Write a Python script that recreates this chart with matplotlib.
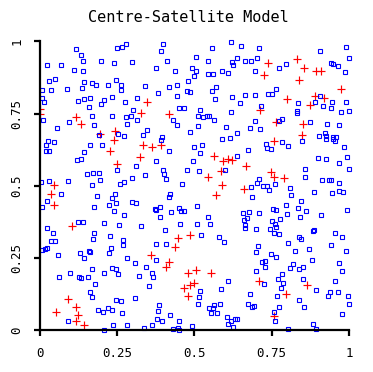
import matplotlib
matplotlib.use("Agg")
from matplotlib import pyplot as plt

# blue squares (roughly top-left to bottom-right)
square_x = [
    0.117, 0.133, 0.139, 0.023, 0.068, 0.197, 0.239, 0.110, 0.139, 0.029, 0.049, 0.142,
    0.168, 0.181, 0.220, 0.006, 0.036, 0.087, 0.136, 0.006, 0.013, 0.123, 0.142, 0.162,
    0.207, 0.233, 0.197, 0.159, 0.010, 0.055, 0.094, 0.168, 0.233, 0.175, 0.191, 0.251,
    0.249, 0.265, 0.278, 0.398, 0.392, 0.298, 0.411, 0.375, 0.437, 0.492, 0.246, 0.262,
    0.262, 0.340, 0.382, 0.417, 0.443, 0.479, 0.476, 0.485, 0.443, 0.314, 0.275, 0.301,
    0.278, 0.294, 0.314, 0.282, 0.450, 0.466, 0.430, 0.443, 0.485, 0.346, 0.333, 0.395,
    0.272,
    0.618, 0.650, 0.709, 0.557, 0.505, 0.544, 0.638, 0.621, 0.625, 0.663, 0.683, 0.702,
    0.505, 0.498, 0.544, 0.560, 0.589, 0.608, 0.696, 0.570, 0.557, 0.566, 0.621, 0.663,
    0.696, 0.738, 0.751, 0.647, 0.715, 0.518, 0.511, 0.527, 0.540, 0.547, 0.563, 0.618,
    0.696, 0.511, 0.602, 0.680, 0.712, 0.638,
    0.990, 0.999, 0.906, 0.942, 0.948, 0.964, 0.987, 0.796, 0.773, 0.764, 0.906, 0.890,
    0.835, 0.916, 0.942, 0.945, 0.990, 0.974, 0.999, 0.832, 0.832, 0.773, 0.783, 0.874,
    0.929, 0.968, 0.922, 0.926, 0.903, 0.948, 0.958,
    0.026, 0.045, 0.019, 0.019, 0.029, 0.162, 0.201, 0.142, 0.120, 0.133, 0.152, 0.172,
    0.191, 0.194, 0.168, 0.003, 0.029, 0.091, 0.068, 0.184, 0.243, 0.233, 0.223, 0.175,
    0.239, 0.023, 0.006, 0.123, 0.139, 0.207, 0.023,
    0.392, 0.417, 0.375, 0.311, 0.249, 0.398, 0.401, 0.408, 0.476, 0.340, 0.298, 0.272,
    0.259, 0.460, 0.421, 0.417, 0.246, 0.298, 0.311, 0.372, 0.375, 0.388, 0.450, 0.456,
    0.466, 0.424, 0.272, 0.388, 0.256, 0.327, 0.453, 0.404,
    0.589, 0.615, 0.498, 0.524, 0.518, 0.495, 0.673, 0.638, 0.731, 0.735, 0.748, 0.515,
    0.599, 0.709, 0.702, 0.722, 0.735, 0.741, 0.683, 0.686, 0.508, 0.544, 0.508, 0.550,
    0.657, 0.676, 0.709, 0.670, 0.660, 0.663, 0.663, 0.699, 0.751, 0.744,
    0.783, 0.803, 0.848, 0.926, 0.948, 0.955, 0.984, 0.900, 0.926, 0.994, 0.968, 0.999,
    0.858, 0.858, 0.913, 0.935, 0.942, 0.968, 0.761, 0.809, 0.812, 0.887, 0.945, 0.968,
    0.981, 0.845, 0.796, 0.835, 0.861, 0.754, 0.764, 0.799, 0.841, 0.909, 0.994, 0.777,
    0.761, 0.764, 0.887, 0.883,
    0.042, 0.175, 0.227, 0.172, 0.036, 0.049, 0.006, 0.016, 0.023, 0.230, 0.159, 0.162,
    0.223, 0.129, 0.058, 0.142, 0.168, 0.233, 0.207, 0.097, 0.061, 0.126, 0.133, 0.155,
    0.178, 0.162, 0.168, 0.188, 0.204, 0.220, 0.233, 0.091, 0.236, 0.207,
    0.269, 0.269, 0.375, 0.408, 0.282, 0.307, 0.375, 0.343, 0.246, 0.252, 0.320, 0.362,
    0.366, 0.353, 0.246, 0.262, 0.307, 0.265, 0.385, 0.382, 0.421, 0.379, 0.395, 0.450,
    0.282, 0.337, 0.362, 0.430, 0.447, 0.450, 0.492,
    0.521, 0.579, 0.595, 0.706, 0.699, 0.748, 0.718, 0.728, 0.728, 0.699, 0.608, 0.586,
    0.518, 0.515, 0.511, 0.583, 0.563, 0.547, 0.560, 0.553, 0.573, 0.680, 0.673, 0.686,
    0.693, 0.725, 0.605, 0.618, 0.608, 0.625, 0.631, 0.638,
    0.757, 0.773, 0.838, 0.845, 0.955, 0.977, 0.942, 0.803, 0.871, 0.825, 0.990, 0.764,
    0.880, 0.819, 0.809, 0.838, 0.851, 0.968, 0.977, 0.783, 0.770, 0.786, 0.851, 0.955,
    0.780, 0.893, 0.939, 0.932, 0.964, 0.997, 0.767, 0.838, 0.999, 0.773, 0.854, 0.757,
    0.977, 0.761, 0.883, 0.803, 0.893,
]
square_y = [
    0.975, 0.954, 0.934, 0.920, 0.920, 0.934, 0.927, 0.902, 0.899, 0.864, 0.871, 0.861,
    0.857, 0.851, 0.851, 0.833, 0.833, 0.837, 0.840, 0.806, 0.792, 0.795, 0.802, 0.806,
    0.799, 0.809, 0.785, 0.774, 0.729, 0.702, 0.722, 0.743, 0.743, 0.712, 0.678, 0.680,
    0.979, 0.982, 0.992, 0.992, 0.968, 0.930, 0.934, 0.909, 0.899, 0.909, 0.868, 0.851,
    0.833, 0.847, 0.823, 0.844, 0.851, 0.864, 0.830, 0.826, 0.812, 0.806, 0.792, 0.764,
    0.740, 0.743, 0.729, 0.716, 0.770, 0.771, 0.729, 0.712, 0.688, 0.695, 0.678, 0.671,
    0.674,
    0.999, 0.985, 0.979, 0.979, 0.947, 0.934, 0.944, 0.930, 0.920, 0.934, 0.934, 0.944,
    0.899, 0.882, 0.889, 0.889, 0.899, 0.892, 0.899, 0.844, 0.830, 0.802, 0.809, 0.816,
    0.816, 0.819, 0.819, 0.788, 0.778, 0.764, 0.743, 0.740, 0.743, 0.743, 0.729, 0.757,
    0.726, 0.709, 0.705, 0.702, 0.698, 0.684,
    0.982, 0.944, 0.968, 0.927, 0.923, 0.916, 0.896, 0.923, 0.909, 0.837, 0.812, 0.792,
    0.788, 0.778, 0.771, 0.792, 0.792, 0.757, 0.761, 0.761, 0.754, 0.726, 0.733, 0.722,
    0.716, 0.712, 0.684, 0.674, 0.674, 0.671, 0.671,
    0.657, 0.653, 0.643, 0.622, 0.622, 0.643, 0.643, 0.619, 0.591, 0.594, 0.543, 0.546,
    0.546, 0.522, 0.504, 0.515, 0.518, 0.518, 0.473, 0.466, 0.473, 0.460, 0.435, 0.428,
    0.415, 0.449, 0.428, 0.376, 0.376, 0.373, 0.356,
    0.660, 0.622, 0.588, 0.570, 0.556, 0.556, 0.543, 0.525, 0.556, 0.539, 0.529, 0.515,
    0.508, 0.508, 0.473, 0.463, 0.442, 0.446, 0.442, 0.421, 0.418, 0.428, 0.425, 0.415,
    0.415, 0.411, 0.401, 0.394, 0.366, 0.363, 0.370, 0.349,
    0.664, 0.667, 0.636, 0.643, 0.615, 0.588, 0.626, 0.605, 0.646, 0.633, 0.629, 0.553,
    0.556, 0.525, 0.511, 0.501, 0.501, 0.487, 0.498, 0.463, 0.432, 0.394, 0.370, 0.370,
    0.408, 0.411, 0.408, 0.390, 0.383, 0.366, 0.356, 0.352, 0.380, 0.352,
    0.653, 0.639, 0.657, 0.664, 0.664, 0.657, 0.636, 0.598, 0.594, 0.601, 0.581, 0.560,
    0.560, 0.532, 0.522, 0.522, 0.522, 0.511, 0.508, 0.494, 0.470, 0.480, 0.477, 0.484,
    0.480, 0.449, 0.435, 0.425, 0.415, 0.421, 0.418, 0.404, 0.394, 0.401, 0.418, 0.387,
    0.370, 0.359, 0.349, 0.345,
    0.338, 0.338, 0.328, 0.318, 0.311, 0.311, 0.280, 0.283, 0.287, 0.287, 0.276, 0.273,
    0.269, 0.269, 0.262, 0.252, 0.214, 0.217, 0.200, 0.200, 0.186, 0.186, 0.183, 0.186,
    0.162, 0.134, 0.117, 0.072, 0.065, 0.079, 0.072, 0.034, 0.020, 0.000,
    0.314, 0.297, 0.300, 0.300, 0.252, 0.235, 0.245, 0.221, 0.214, 0.197, 0.190, 0.200,
    0.186, 0.155, 0.107, 0.103, 0.113, 0.062, 0.089, 0.069, 0.055, 0.041, 0.034, 0.034,
    0.020, 0.010, 0.020, 0.006, 0.010, 0.000, 0.017,
    0.331, 0.325, 0.307, 0.293, 0.273, 0.266, 0.238, 0.242, 0.221, 0.207, 0.172, 0.145,
    0.138, 0.117, 0.093, 0.093, 0.089, 0.079, 0.079, 0.062, 0.062, 0.127, 0.093, 0.082,
    0.086, 0.162, 0.048, 0.034, 0.024, 0.013, 0.041, 0.041,
    0.338, 0.335, 0.325, 0.318, 0.338, 0.325, 0.297, 0.304, 0.283, 0.276, 0.276, 0.255,
    0.245, 0.231, 0.217, 0.214, 0.221, 0.235, 0.207, 0.197, 0.179, 0.165, 0.179, 0.172,
    0.148, 0.141, 0.134, 0.120, 0.134, 0.120, 0.120, 0.107, 0.093, 0.082, 0.082, 0.065,
    0.058, 0.034, 0.024, 0.006, 0.006,
]

# red crosses
cross_x = [
    0.000, 0.000, 0.117, 0.134, 0.193, 0.244, 0.346, 0.328, 0.418, 0.739, 0.726, 0.713,
    0.833, 0.855, 0.894, 0.910, 0.839, 0.975, 0.891, 0.920, 0.800, 0.875, 0.764, 0.852,
    0.849, 0.240, 0.228, 0.046, 0.037, 0.046, 0.105, 0.334, 0.363, 0.393, 0.325, 0.250,
    0.564, 0.593, 0.609, 0.622, 0.587, 0.668, 0.545, 0.590, 0.571, 0.661, 0.749, 0.757,
    0.758, 0.791, 0.092, 0.117, 0.053, 0.124, 0.117, 0.143, 0.448, 0.486, 0.438, 0.360,
    0.418, 0.409, 0.480, 0.486, 0.499, 0.467, 0.480, 0.506, 0.554, 0.710, 0.865, 0.797,
    0.758,
]
cross_y = [
    0.767, 0.749, 0.738, 0.714, 0.680, 0.689, 0.791, 0.752, 0.748, 0.925, 0.883, 0.764,
    0.938, 0.907, 0.897, 0.897, 0.866, 0.835, 0.810, 0.803, 0.800, 0.779, 0.720, 0.714,
    0.675, 0.659, 0.621, 0.502, 0.471, 0.433, 0.361, 0.643, 0.636, 0.643, 0.601, 0.575,
    0.603, 0.585, 0.592, 0.589, 0.553, 0.568, 0.530, 0.502, 0.468, 0.489, 0.547, 0.657,
    0.530, 0.528, 0.108, 0.080, 0.064, 0.053, 0.033, 0.018, 0.319, 0.331, 0.288, 0.260,
    0.236, 0.219, 0.198, 0.156, 0.163, 0.146, 0.118, 0.208, 0.198, 0.170, 0.156, 0.125,
    0.051,
]

ticks = [0, 0.25, 0.5, 0.75, 1]
tick_labels = ["0", "0.25", "0.5", "0.75", "1"]

plt.rcParams["font.family"] = "DejaVu Sans Mono"

fig = plt.figure(figsize=(3.73, 3.72), dpi=100)
ax = fig.add_axes([0.1072, 0.1116, 0.8284, 0.7769])

ax.plot(cross_x, cross_y, linestyle="none", marker="+", color="#ff0000",
        markersize=5.2, markeredgewidth=0.85)
ax.plot(square_x, square_y, linestyle="none", marker="s", markerfacecolor="none",
        markeredgecolor="#0000ff", markersize=3.5, markeredgewidth=0.8, clip_on=False)

ax.set_xlim(0, 1)
ax.set_ylim(0, 1)
ax.set_xticks(ticks)
ax.set_xticklabels(tick_labels)
ax.set_yticks(ticks)
ax.set_yticklabels(tick_labels, rotation=90, va="center")

for s in ["top", "right"]:
    ax.spines[s].set_visible(False)
for s in ["left", "bottom"]:
    ax.spines[s].set_linewidth(1.6)
    ax.spines[s].set_capstyle("projecting")

ax.tick_params(direction="out", length=4, width=1.6, labelsize=9, pad=8, colors="black")

fig.text(0.504, 0.952, "Centre-Satellite Model", ha="center", va="center", fontsize=11)

fig.savefig("out.png", dpi=100)
